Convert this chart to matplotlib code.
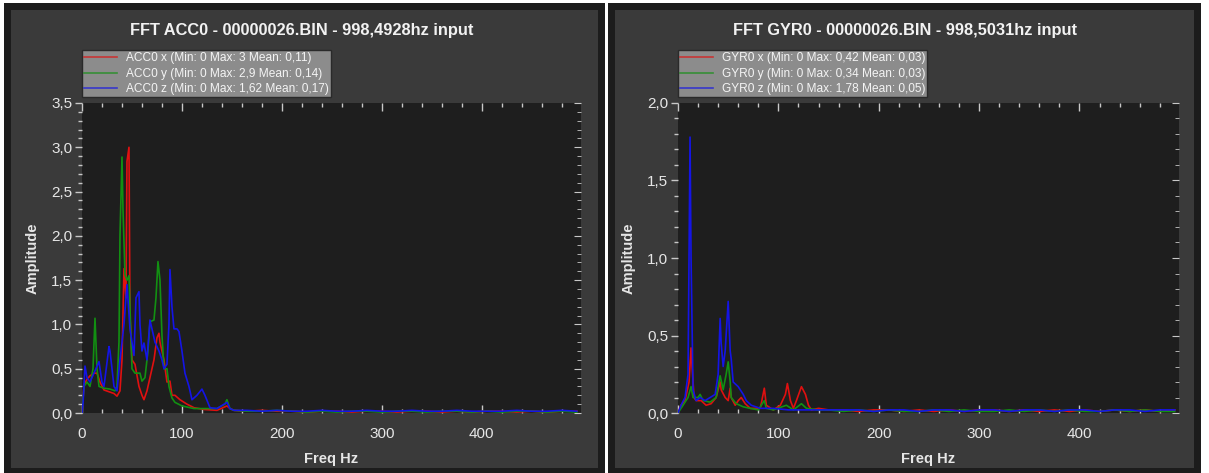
import matplotlib
matplotlib.use("Agg")
import matplotlib.pyplot as plt
from matplotlib.patches import Rectangle
from matplotlib.ticker import MultipleLocator, FuncFormatter

plt.rcParams["font.family"] = ["Liberation Sans", "DejaVu Sans"]

# ---------------- data ----------------
tail_f = [165, 180, 195, 210, 225, 240, 255, 270, 285, 300, 315, 330,
          345, 360, 375, 390, 405, 420, 435, 450, 465, 480, 495]

acc_x_f = [0, 2, 5, 8, 12, 15, 18, 22, 27, 32, 35, 38, 40, 42, 44, 45, 47, 48, 50,
           53, 57, 60, 62, 65, 68, 72, 75, 77, 78, 82, 85, 88, 90, 93, 98, 105, 112,
           122, 135, 145, 148, 152]
acc_x_a = [0, 0.32, 0.38, 0.42, 0.45, 0.45, 0.35, 0.26, 0.24, 0.22, 0.19, 0.25, 0.6,
           1.63, 1.3, 2.84, 3.0, 1.1, 0.6, 0.55, 0.3, 0.2, 0.15, 0.25, 0.4, 0.6, 0.85,
           0.9, 0.8, 0.6, 0.35, 0.36, 0.2, 0.2, 0.15, 0.1, 0.06, 0.04, 0.03, 0.08,
           0.05, 0.03]
acc_x_tail = [0.02, 0.03, 0.02, 0.02, 0.01, 0.02, 0.02, 0.01, 0.02, 0.02, 0.01, 0.02,
              0.02, 0.01, 0.02, 0.01, 0.02, 0.02, 0.01, 0.02, 0.01, 0.02, 0.02]

acc_y_f = [0, 2, 5, 8, 11, 13, 15, 17, 22, 28, 33, 35, 37, 38, 40, 41, 43, 45, 47,
           50, 53, 58, 60, 63, 66, 68, 72, 74, 76, 78, 80, 82, 85, 87, 90, 93, 100,
           112, 135, 143, 145, 148, 152]
acc_y_a = [0, 0.3, 0.35, 0.3, 0.5, 1.07, 0.5, 0.3, 0.28, 0.27, 0.25, 0.3, 0.8, 2.0,
           2.89, 2.3, 1.56, 1.5, 1.55, 0.5, 0.45, 0.45, 0.36, 0.4, 0.7, 1.03, 1.05,
           1.3, 1.71, 1.5, 0.88, 0.5, 0.5, 0.3, 0.17, 0.12, 0.08, 0.05, 0.05, 0.1,
           0.15, 0.05, 0.03]
acc_y_tail = [0.02, 0.02, 0.03, 0.02, 0.01, 0.02, 0.01, 0.02, 0.02, 0.01, 0.02, 0.02,
              0.01, 0.02, 0.02, 0.01, 0.02, 0.01, 0.02, 0.02, 0.01, 0.02, 0.01]

acc_z_f = [0, 1, 3, 5, 8, 12, 17, 20, 22, 27, 28, 32, 35, 38, 42, 45, 48, 52, 54,
           57, 58, 60, 62, 65, 68, 70, 73, 77, 80, 82, 85, 87, 88, 90, 92, 95, 97,
           100, 103, 107, 110, 115, 120, 123, 128, 135, 145, 148, 152]
acc_z_a = [0, 0.1, 0.53, 0.4, 0.35, 0.45, 0.58, 0.35, 0.3, 0.75, 0.7, 0.3, 0.25,
           0.6, 1.0, 1.45, 0.95, 0.65, 1.3, 1.37, 1.0, 0.7, 0.79, 0.6, 1.05, 0.95,
           0.8, 0.7, 0.6, 0.5, 0.55, 1.0, 1.62, 1.2, 0.95, 0.95, 0.92, 0.7, 0.45,
           0.3, 0.15, 0.2, 0.27, 0.2, 0.06, 0.05, 0.12, 0.05, 0.03]
acc_z_tail = [0.03, 0.02, 0.03, 0.02, 0.02, 0.03, 0.02, 0.02, 0.03, 0.02, 0.02, 0.03,
              0.02, 0.02, 0.03, 0.02, 0.02, 0.02, 0.03, 0.02, 0.02, 0.03, 0.02]

gyr_x_f = [0, 3, 7, 11, 13, 14, 16, 18, 23, 28, 33, 38, 42, 43, 47, 50, 52, 53, 57,
           60, 63, 67, 72, 82, 86, 88, 95, 102, 107, 109, 112, 115, 118, 123, 127,
           130, 133, 140, 150]
gyr_x_a = [0, 0.05, 0.08, 0.2, 0.42, 0.3, 0.1, 0.08, 0.08, 0.05, 0.06, 0.1, 0.2,
           0.15, 0.1, 0.08, 0.16, 0.1, 0.05, 0.08, 0.1, 0.06, 0.03, 0.03, 0.16, 0.05,
           0.02, 0.05, 0.12, 0.19, 0.08, 0.03, 0.08, 0.17, 0.12, 0.05, 0.02, 0.03,
           0.02]
gyr_x_tail = [0.02, 0.01, 0.02, 0.02, 0.01, 0.02, 0.01, 0.02, 0.01, 0.02, 0.02, 0.01,
              0.02, 0.01, 0.02, 0.01, 0.02, 0.01, 0.02, 0.01, 0.02, 0.01, 0.02]

gyr_y_f = [0, 5, 10, 13, 15, 20, 22, 25, 32, 38, 42, 45, 48, 50, 52, 53, 58, 65, 72,
           80, 86, 88, 95, 108, 115, 123, 128, 140, 150]
gyr_y_a = [0, 0.05, 0.1, 0.17, 0.1, 0.1, 0.12, 0.08, 0.07, 0.1, 0.24, 0.15, 0.25,
           0.33, 0.2, 0.1, 0.06, 0.04, 0.03, 0.02, 0.08, 0.03, 0.02, 0.05, 0.02,
           0.06, 0.03, 0.02, 0.02]
gyr_y_tail = [0.01, 0.02, 0.01, 0.02, 0.01, 0.01, 0.02, 0.01, 0.02, 0.01, 0.01, 0.02,
              0.01, 0.02, 0.01, 0.02, 0.01, 0.01, 0.02, 0.01, 0.02, 0.01, 0.01]

gyr_z_f = [0, 3, 7, 10, 12, 13, 15, 18, 22, 27, 32, 37, 40, 42, 43, 45, 47, 50, 52,
           53, 55, 60, 65, 68, 73, 82, 95, 110, 130, 150]
gyr_z_a = [0, 0.05, 0.1, 0.25, 1.78, 1.0, 0.15, 0.08, 0.1, 0.08, 0.1, 0.12, 0.25,
           0.61, 0.45, 0.3, 0.4, 0.72, 0.4, 0.35, 0.2, 0.17, 0.12, 0.08, 0.05, 0.03,
           0.03, 0.02, 0.02, 0.02]
gyr_z_tail = [0.02, 0.02, 0.01, 0.02, 0.02, 0.01, 0.02, 0.02, 0.01, 0.02, 0.02, 0.01,
              0.02, 0.02, 0.01, 0.02, 0.02, 0.01, 0.02, 0.02, 0.01, 0.02, 0.02]

acc_labels = ["ACC0 x (Min: 0 Max: 3 Mean: 0,11)",
              "ACC0 y (Min: 0 Max: 2,9 Mean: 0,14)",
              "ACC0 z (Min: 0 Max: 1,62 Mean: 0,17)"]
gyr_labels = ["GYR0 x (Min: 0 Max: 0,42 Mean: 0,03)",
              "GYR0 y (Min: 0 Max: 0,34 Mean: 0,03)",
              "GYR0 z (Min: 0 Max: 1,78 Mean: 0,05)"]
acc_title = "FFT ACC0 - 00000026.BIN - 998,4928hz input"
gyr_title = "FFT GYR0 - 00000026.BIN - 998,5031hz input"
x_max = 499.2

# ---------------- style ----------------
W, H = 1209, 473
line_colors = ["#e01010", "#129012", "#1414e6"]
panel_bg = "#3a3a3a"
panel_border = "#1c1c1c"
plot_bg = "#1e1e1e"
text_col = "#e6e6e6"
tick_col = "#c8c8c8"

fig = plt.figure(figsize=(W / 100, H / 100), dpi=100)
fig.patch.set_facecolor("white")


def fig_rect(x0, y0, x1, y1, **kw):
    # pixel coords (top-left origin) -> figure rect
    fig.patches.append(Rectangle((x0 / W, 1 - y1 / H), (x1 - x0) / W, (y1 - y0) / H,
                                 transform=fig.transFigure, zorder=-20, **kw))


# panels
for (a, b) in [(4, 605), (608, 1201)]:
    fig_rect(a, 3, b, 473, facecolor=panel_border, edgecolor="none")
    fig_rect(a + 7, 10, b - 7, 468, facecolor=panel_bg, edgecolor="none")


def yfmt(v, pos):
    return f"{v:.1f}".replace(".", ",")


def make_axes(px0, px1, series, labels, title, ymax, cx):
    ax = fig.add_axes([px0 / W, 1 - 413 / H, (px1 - px0) / W, 310 / H])
    ax.set_zorder(1)
    ax.set_facecolor(plot_bg)
    handles = []
    for (f, a, tf, ta), c, lab in zip(series, line_colors, labels):
        h, = ax.plot(list(f) + list(tf), list(a) + list(ta), color=c, lw=1.2, label=lab)
        handles.append(h)
    ax.set_xlim(0, x_max)
    ax.set_ylim(0, ymax)
    for s in ax.spines.values():
        s.set_visible(False)
    ax.xaxis.set_major_locator(MultipleLocator(100))
    ax.xaxis.set_minor_locator(MultipleLocator(20))
    ax.yaxis.set_major_locator(MultipleLocator(0.5))
    ax.yaxis.set_minor_locator(MultipleLocator(0.1))
    ax.yaxis.set_major_formatter(FuncFormatter(yfmt))
    ax.tick_params(axis="x", which="both", direction="in", top=True, bottom=True,
                   colors=tick_col, labelcolor=text_col, labelsize=11, pad=10)
    ax.tick_params(axis="x", which="major", length=6, width=1)
    ax.tick_params(axis="x", which="minor", length=3, width=1)
    ax.tick_params(axis="y", which="both", direction="out", left=True, right=False,
                   colors=tick_col, labelcolor=text_col, labelsize=11, pad=2)
    ax.tick_params(axis="y", which="major", length=5, width=1)
    ax.tick_params(axis="y", which="minor", length=3, width=1)
    # right side inward ticks
    ax2 = ax.secondary_yaxis("right")
    ax2.yaxis.set_major_locator(MultipleLocator(0.5))
    ax2.yaxis.set_minor_locator(MultipleLocator(0.1))
    ax2.tick_params(axis="y", which="both", direction="in", colors=tick_col,
                    labelright=False)
    ax2.tick_params(axis="y", which="major", length=5)
    ax2.tick_params(axis="y", which="minor", length=3)
    ax2.spines["right"].set_visible(False)
    ax.set_xlabel("Freq Hz", color=text_col, fontsize=10.5, fontweight="bold", labelpad=8)
    ax.set_ylabel("Amplitude", color=text_col, fontsize=10.5, fontweight="bold", labelpad=8)
    fig.text(cx / W, 1 - 30 / H, title, color="#f2f2f2", fontsize=11.8,
             fontweight="bold", ha="center", va="center")
    leg = fig.legend(handles=handles, loc="upper left",
                     bbox_to_anchor=(px0 / W, 1 - 50 / H), bbox_transform=fig.transFigure,
                     fontsize=8.6, frameon=True, fancybox=False, borderpad=0.2,
                     labelspacing=0.28, handlelength=2.7, handletextpad=0.75,
                     borderaxespad=0)
    leg.set_zorder(5)
    fr = leg.get_frame()
    fr.set_facecolor("#8c8c8c")
    fr.set_edgecolor("#2a2a2a")
    fr.set_alpha(1)
    fr.set_linewidth(1)
    for t in leg.get_texts():
        t.set_color("#f4f4f4")
    for l in leg.get_lines():
        l.set_alpha(0.7)
    return ax


acc_series = [(acc_x_f, acc_x_a, tail_f, acc_x_tail),
              (acc_y_f, acc_y_a, tail_f, acc_y_tail),
              (acc_z_f, acc_z_a, tail_f, acc_z_tail)]
gyr_series = [(gyr_x_f, gyr_x_a, tail_f, gyr_x_tail),
              (gyr_y_f, gyr_y_a, tail_f, gyr_y_tail),
              (gyr_z_f, gyr_z_a, tail_f, gyr_z_tail)]

make_axes(82, 581, acc_series, acc_labels, acc_title, 3.5, 302)
make_axes(678, 1179, gyr_series, gyr_labels, gyr_title, 2.0, 905)

fig.savefig("out.png", dpi=100, facecolor=fig.get_facecolor())
